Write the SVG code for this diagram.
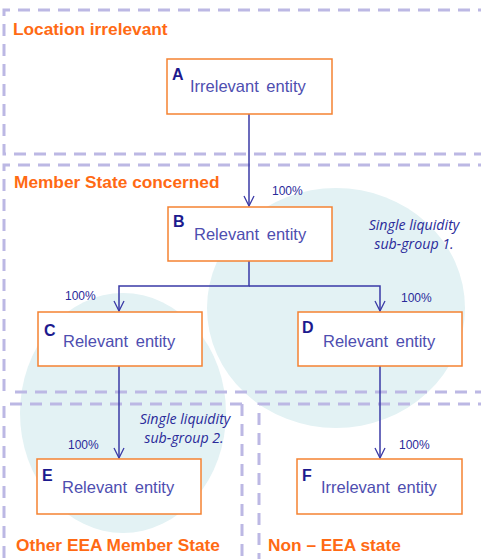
<svg xmlns="http://www.w3.org/2000/svg" width="481" height="559" viewBox="0 0 481 559">
<defs>
<style>
.region{fill:none;stroke:#bcb8e4;stroke-width:3;stroke-dasharray:12 8}
.title{font-family:"Liberation Sans",Arial,sans-serif;font-weight:bold;font-size:17.3px;fill:#ff6a14}
.box{fill:#ffffff;stroke:#f58232;stroke-width:1.5}
.letter{font-family:"Liberation Sans",Arial,sans-serif;font-weight:bold;font-size:16px;fill:#1c1a8e}
.label{font-family:"Liberation Sans",Arial,sans-serif;font-size:16.5px;fill:#4e4eb0;word-spacing:3px}
.pct{font-family:"Liberation Sans",Arial,sans-serif;font-size:12px;fill:#2a2a9a}
.sub{font-family:"Open Sans","Liberation Sans",sans-serif;font-style:italic;font-size:14.2px;fill:#2a2a9a;text-anchor:middle}
.conn{fill:none;stroke:#3a3aa6;stroke-width:1.5}
.circle{fill:#e3f2f4}
</style>
<marker id="arr" viewBox="0 0 12 12" refX="11" refY="6" markerWidth="12" markerHeight="12" markerUnits="userSpaceOnUse" orient="auto">
<path d="M1,1 L11,6 L1,11" fill="none" stroke="#3a3aa6" stroke-width="1.3"/>
</marker>
</defs>
<rect width="481" height="559" fill="#ffffff"/>

<g id="circles">
<ellipse class="circle" cx="336" cy="308" rx="129" ry="120"/>
<ellipse class="circle" cx="123" cy="413" rx="103" ry="120"/>
</g>

<g id="regions">
<g id="region-location-irrelevant">
<path class="region" d="M490,10 H4 V154 H490"/>
<text class="title" x="13" y="35">Location irrelevant</text>
</g>
<g id="region-member-state">
<path class="region" d="M490,165 H4 V392 M15,392 H490"/>
<text class="title" x="14" y="188">Member State concerned</text>
</g>
<g id="region-other-eea">
<path class="region" d="M242,404 H4 V570 M242,404 V570"/>
<text class="title" x="16" y="551">Other EEA Member State</text>
</g>
<g id="region-non-eea">
<path class="region" d="M490,404 H259 V570"/>
<text class="title" x="268" y="551">Non – EEA state</text>
</g>
</g>

<g id="sublabels">
<text class="sub" x="414" y="230">Single liquidity</text>
<text class="sub" x="414" y="249">sub-group 1.</text>
<text class="sub" x="185" y="424">Single liquidity</text>
<text class="sub" x="184" y="443">sub-group 2.</text>
</g>

<g id="connectors">
<path class="conn" d="M249,114 V206" marker-end="url(#arr)"/>
<path class="conn" d="M249,261 V286 H119 V311" marker-end="url(#arr)"/>
<path class="conn" d="M249,286 H380 V311" marker-end="url(#arr)"/>
<path class="conn" d="M119,366 V458" marker-end="url(#arr)"/>
<path class="conn" d="M380,366 V458" marker-end="url(#arr)"/>
<text class="pct" x="272" y="195">100%</text>
<text class="pct" x="65" y="300">100%</text>
<text class="pct" x="401" y="302">100%</text>
<text class="pct" x="68" y="449">100%</text>
<text class="pct" x="399" y="449">100%</text>
</g>

<g id="node-A">
<rect class="box" x="167" y="59" width="165" height="55"/>
<text class="letter" x="172" y="80">A</text>
<text class="label" x="190" y="92">Irrelevant entity</text>
</g>
<g id="node-B">
<rect class="box" x="168" y="207" width="164" height="54"/>
<text class="letter" x="173" y="227">B</text>
<text class="label" x="194" y="240">Relevant entity</text>
</g>
<g id="node-C">
<rect class="box" x="38" y="312" width="164" height="54"/>
<text class="letter" x="44" y="336">C</text>
<text class="label" x="63" y="347">Relevant entity</text>
</g>
<g id="node-D">
<rect class="box" x="298" y="312" width="164" height="54"/>
<text class="letter" x="302" y="333">D</text>
<text class="label" x="323" y="347">Relevant entity</text>
</g>
<g id="node-E">
<rect class="box" x="37" y="459" width="164" height="55"/>
<text class="letter" x="42" y="481">E</text>
<text class="label" x="62" y="493">Relevant entity</text>
</g>
<g id="node-F">
<rect class="box" x="297" y="459" width="165" height="55"/>
<text class="letter" x="302" y="481">F</text>
<text class="label" x="321" y="493">Irrelevant entity</text>
</g>
</svg>
